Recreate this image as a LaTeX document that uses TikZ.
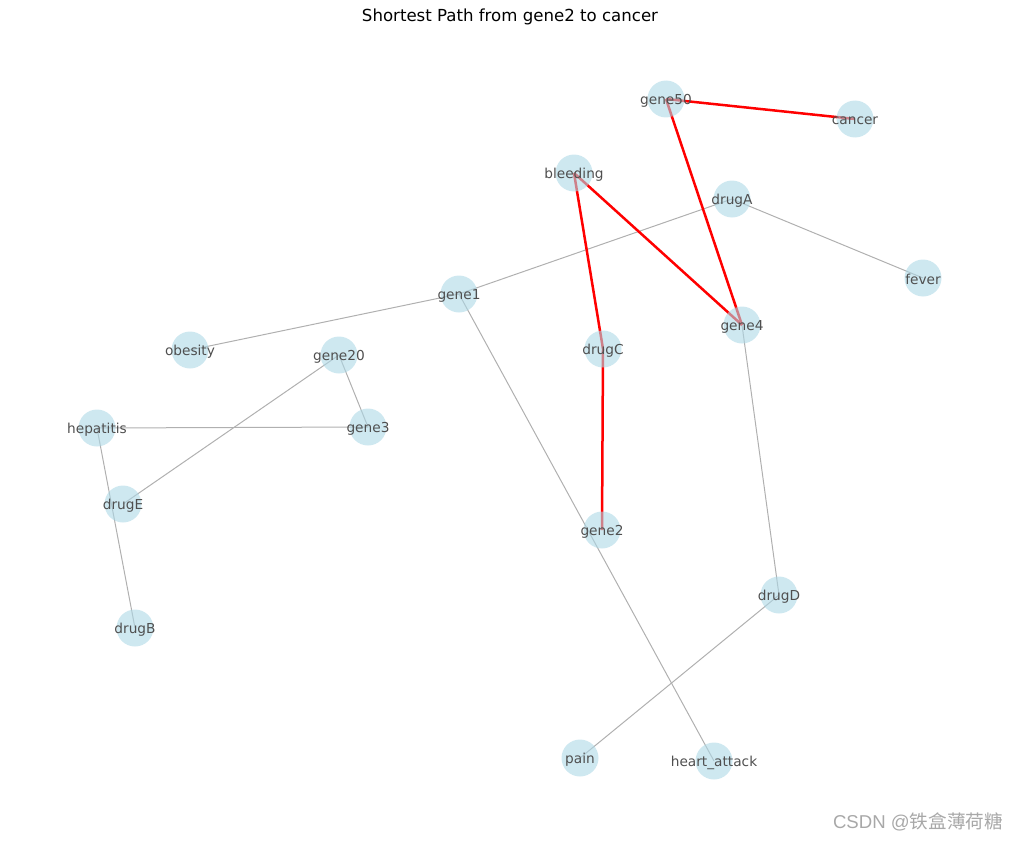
\documentclass[tikz,border=0pt]{standalone}
\usepackage{fontspec}
\setmainfont{DejaVu Sans}
\newfontfamily\cjk{Noto Sans CJK SC}
\newfontfamily\wmlatin{Liberation Sans}
\pgfdeclarelayer{bg}
\pgfsetlayers{bg,main}
\definecolor{nodefill}{HTML}{ADD8E6}
\definecolor{edgegray}{HTML}{B0B0B0}
\definecolor{labelgray}{HTML}{4F4F4F}
\definecolor{pathred}{HTML}{FF0000}
\definecolor{wmgray}{HTML}{A8A8A8}
\tikzset{
  gnode/.style={circle, minimum size=37pt, inner sep=0pt, fill=nodefill, fill opacity=0.6},
  glabel/.style={text=labelgray, inner sep=0pt, yshift=-1.5pt, font=\fontsize{13.7}{16}\selectfont},
  gedge/.style={draw=edgegray, line width=1pt},
  redge/.style={draw=pathred, line width=2.5pt},
}
\begin{document}
\begin{tikzpicture}[x=1pt,y=-1pt]
\useasboundingbox (0,0) rectangle (1019,840);
\node[font=\fontsize{16.6}{19}\selectfont] (title) at (510,17) {Shortest Path from gene2 to cancer};
\foreach \n/\x/\y in {gene50/666/99, cancer/855/119, bleeding/574/173, drugA/732/199, fever/923/278, gene1/459/294, gene4/742/325, obesity/190/350, gene20/339/355, drugC/603/349, hepatitis/97/428, gene3/368/427, drugE/123/504, gene2/602/530, drugD/779/595, drugB/135/628, pain/580/758, heart/714/761}
  \node[gnode] (\n) at (\x,\y) {};
\node[glabel] (l-gene50) at (gene50) {gene50};
\node[glabel] (l-cancer) at (cancer) {cancer};
\node[glabel] (l-bleeding) at (bleeding) {bleeding};
\node[glabel] (l-drugA) at (drugA) {drugA};
\node[glabel] (l-fever) at (fever) {fever};
\node[glabel] (l-gene1) at (gene1) {gene1};
\node[glabel] (l-gene4) at (gene4) {gene4};
\node[glabel] (l-obesity) at (obesity) {obesity};
\node[glabel] (l-gene20) at (gene20) {gene20};
\node[glabel] (l-drugC) at (drugC) {drugC};
\node[glabel] (l-hepatitis) at (hepatitis) {hepatitis};
\node[glabel] (l-gene3) at (gene3) {gene3};
\node[glabel] (l-drugE) at (drugE) {drugE};
\node[glabel] (l-gene2) at (gene2) {gene2};
\node[glabel] (l-drugD) at (drugD) {drugD};
\node[glabel] (l-drugB) at (drugB) {drugB};
\node[glabel] (l-pain) at (pain) {pain};
\node[glabel] (l-heart) at (heart) {heart\_attack};
\node[text=wmgray, inner sep=0pt, anchor=east, font=\fontsize{18.6}{22}\selectfont] (wm) at (1003,822) {\wmlatin CSDN @\cjk 铁盒薄荷糖};
\begin{pgfonlayer}{bg}
\draw[gedge] (gene1.center) -- (drugA.center);
\draw[gedge] (drugA.center) -- (fever.center);
\draw[gedge] (gene1.center) -- (obesity.center);
\draw[gedge] (gene1.center) -- (heart.center);
\draw[gedge] (gene20.center) -- (gene3.center);
\draw[gedge] (gene20.center) -- (drugE.center);
\draw[gedge] (hepatitis.center) -- (gene3.center);
\draw[gedge] (hepatitis.center) -- (drugB.center);
\draw[gedge] (gene4.center) -- (drugD.center);
\draw[gedge] (drugD.center) -- (pain.center);
\draw[redge] (gene50.center) -- (cancer.center);
\draw[redge] (gene50.center) -- (gene4.center);
\draw[redge] (bleeding.center) -- (gene4.center);
\draw[redge] (bleeding.center) -- (drugC.center);
\draw[redge] (drugC.center) -- (gene2.center);
\end{pgfonlayer}
\end{tikzpicture}
\end{document}
